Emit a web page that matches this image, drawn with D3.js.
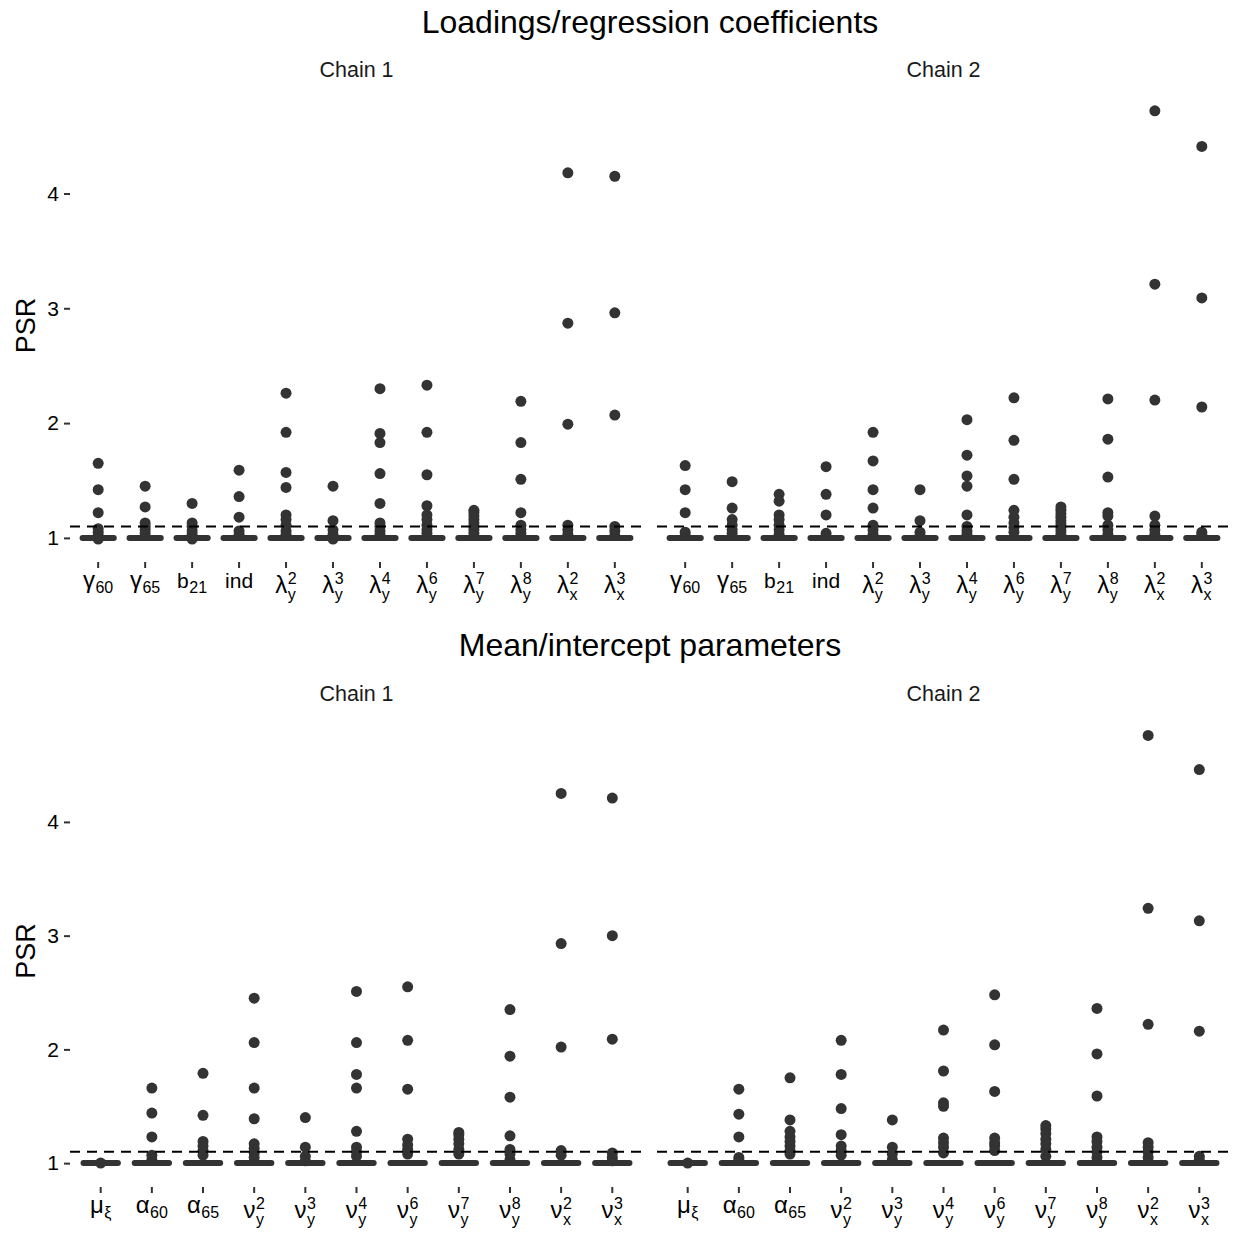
<!DOCTYPE html>
<html>
<head>
<meta charset="utf-8">
<script src="https://cdn.jsdelivr.net/npm/d3@7"></script>
<style>
  body { margin: 0; background: #fff; }
  text { font-family: "Liberation Sans", Arial, sans-serif; }
</style>
</head>
<body>
<script>
// categories + label pieces (base, subscript, superscript)
var loadBase = ['γ', 'γ', 'b', 'ind', 'λ', 'λ', 'λ', 'λ', 'λ', 'λ', 'λ', 'λ'];
var loadSub  = ['60', '65', '21', '', 'y', 'y', 'y', 'y', 'y', 'y', 'x', 'x'];
var loadSup  = ['', '', '', '', '2', '3', '4', '6', '7', '8', '2', '3'];

var meanBase = ['μ', 'α', 'α', 'ν', 'ν', 'ν', 'ν', 'ν', 'ν', 'ν', 'ν'];
var meanSub  = ['ξ', '60', '65', 'y', 'y', 'y', 'y', 'y', 'y', 'x', 'x'];
var meanSup  = ['', '', '', '2', '3', '4', '6', '7', '8', '2', '3'];

var chains = ['Chain 1', 'Chain 2'];
var yTicks = [1, 2, 3, 4];
var cutoff = 1.1;

// medians (boxes collapse onto these)
var loadMedian = [1.0, 1.0, 1.0, 1.0, 1.0, 1.0, 1.0, 1.0, 1.0, 1.0, 1.0, 1.0];
var meanMedian = [1.0, 1.0, 1.0, 1.0, 1.0, 1.0, 1.0, 1.0, 1.0, 1.0, 1.0];

// outlying PSR values per parameter
var loadChain1 = [
  [1.65, 1.42, 1.22, 1.08, 1.05, 1.02, 0.99],
  [1.45, 1.27, 1.13, 1.10, 1.07, 1.04],
  [1.30, 1.13, 1.10, 1.06, 1.03, 0.99],
  [1.59, 1.36, 1.18, 1.06, 1.03],
  [2.26, 1.92, 1.57, 1.44, 1.20, 1.16, 1.11, 1.06, 1.03],
  [1.45, 1.15, 1.07, 1.03, 0.99],
  [2.30, 1.91, 1.83, 1.56, 1.30, 1.13, 1.10, 1.06, 1.03],
  [2.33, 1.92, 1.55, 1.28, 1.20, 1.16, 1.11, 1.07, 1.04],
  [1.24, 1.22, 1.19, 1.16, 1.13, 1.10, 1.07, 1.04],
  [2.19, 1.83, 1.51, 1.22, 1.11, 1.07, 1.04],
  [4.18, 2.87, 1.99, 1.11, 1.07, 1.03],
  [4.15, 2.96, 2.07, 1.10, 1.06, 1.02]
];
var loadChain2 = [
  [1.63, 1.42, 1.22, 1.05, 1.02],
  [1.49, 1.26, 1.16, 1.11, 1.07, 1.04],
  [1.38, 1.32, 1.20, 1.16, 1.11, 1.07, 1.03],
  [1.62, 1.38, 1.20, 1.04],
  [1.92, 1.67, 1.42, 1.26, 1.11, 1.07, 1.03],
  [1.42, 1.15, 1.05, 1.02],
  [2.03, 1.72, 1.54, 1.45, 1.20, 1.10, 1.06, 1.03],
  [2.22, 1.85, 1.51, 1.24, 1.18, 1.13, 1.09, 1.05],
  [1.27, 1.24, 1.21, 1.18, 1.15, 1.12, 1.09, 1.06, 1.03],
  [2.21, 1.86, 1.53, 1.22, 1.19, 1.11, 1.07, 1.03],
  [4.72, 3.21, 2.20, 1.19, 1.11, 1.07, 1.03],
  [4.41, 3.09, 2.14, 1.05, 1.03]
];
var meanChain1 = [
  [1.00],
  [1.66, 1.44, 1.23, 1.07, 1.03],
  [1.79, 1.42, 1.19, 1.15, 1.11, 1.07],
  [2.45, 2.06, 1.66, 1.39, 1.17, 1.13, 1.09, 1.05],
  [1.40, 1.14, 1.06, 1.02],
  [2.51, 2.06, 1.78, 1.66, 1.28, 1.14, 1.10, 1.06],
  [2.55, 2.08, 1.65, 1.21, 1.16, 1.12, 1.08],
  [1.27, 1.25, 1.21, 1.17, 1.12, 1.08],
  [2.35, 1.94, 1.58, 1.24, 1.12, 1.08, 1.03],
  [4.25, 2.93, 2.02, 1.11, 1.07],
  [4.21, 3.00, 2.09, 1.09, 1.05, 1.02]
];
var meanChain2 = [
  [1.00],
  [1.65, 1.43, 1.23, 1.05, 1.03],
  [1.75, 1.38, 1.28, 1.23, 1.19, 1.15, 1.11, 1.08],
  [2.08, 1.78, 1.48, 1.25, 1.15, 1.11, 1.07],
  [1.38, 1.14, 1.08, 1.03],
  [2.17, 1.81, 1.53, 1.50, 1.22, 1.18, 1.14, 1.09],
  [2.48, 2.04, 1.63, 1.22, 1.18, 1.15, 1.11],
  [1.33, 1.30, 1.26, 1.21, 1.17, 1.12, 1.06],
  [2.36, 1.96, 1.59, 1.23, 1.19, 1.14, 1.10, 1.05],
  [4.76, 3.24, 2.22, 1.18, 1.14, 1.10, 1.05],
  [4.46, 3.13, 2.16, 1.06, 1.03]
];

var W = 1233, H = 1233;
var ink = '#333333';
var panelX = [[70, 643], [657, 1230]];

var sections = [
  { title: 'Loadings/regression coefficients', titleY: 33, stripY: 77,
    top: 89, bottom: 562, domain: [0.79, 4.91],
    base: loadBase, sub: loadSub, sup: loadSup, median: loadMedian,
    data: [loadChain1, loadChain2] },
  { title: 'Mean/intercept parameters', titleY: 656, stripY: 701,
    top: 715, bottom: 1187, domain: [0.79, 4.94],
    base: meanBase, sub: meanSub, sup: meanSup, median: meanMedian,
    data: [meanChain1, meanChain2] }
];

var svg = d3.select('body').append('svg')
  .attr('width', W)
  .attr('height', H);

sections.forEach(function(sec) {
  var y = d3.scaleLinear().domain(sec.domain).range([sec.bottom, sec.top]);
  var idx = d3.range(sec.base.length);

  svg.append('text')
    .attr('x', (panelX[0][0] + panelX[1][1]) / 2)
    .attr('y', sec.titleY)
    .attr('text-anchor', 'middle')
    .style('font-size', '32px')
    .text(sec.title);

  // y axis
  var yAxis = svg.append('g').attr('transform', 'translate(' + panelX[0][0] + ',0)')
    .call(d3.axisLeft(y).tickValues(yTicks).tickSize(6).tickPadding(5).tickFormat(d3.format('d')));
  yAxis.select('.domain').remove();
  yAxis.selectAll('line').attr('stroke', ink).attr('stroke-width', 2);
  yAxis.selectAll('text').style('font-size', '21px').attr('fill', '#000')
    .style('font-family', '"Liberation Sans", Arial, sans-serif');

  svg.append('text')
    .attr('transform', 'translate(35,' + ((sec.top + sec.bottom) / 2) + ') rotate(-90)')
    .attr('text-anchor', 'middle')
    .style('font-size', '27px')
    .text('PSR');

  chains.forEach(function(chain, c) {
    var x = d3.scalePoint().domain(idx).range(panelX[c]).padding(0.6);
    var step = x.step();
    var g = svg.append('g');

    g.append('text')
      .attr('x', (panelX[c][0] + panelX[c][1]) / 2)
      .attr('y', sec.stripY)
      .attr('text-anchor', 'middle')
      .style('font-size', '21.5px')
      .attr('fill', '#1a1a1a')
      .text(chain);

    // outliers
    idx.forEach(function(i) {
      g.selectAll(null)
        .data(sec.data[c][i])
        .enter().append('circle')
        .attr('cx', x(i))
        .attr('cy', function(d) { return y(d); })
        .attr('r', 5.5)
        .attr('fill', ink);
    });

    // collapsed boxes
    g.selectAll('rect.box')
      .data(idx)
      .enter().append('rect')
      .attr('class', 'box')
      .attr('x', function(i) { return x(i) - step * 0.375; })
      .attr('y', function(i) { return y(sec.median[i]) - 2; })
      .attr('width', step * 0.75)
      .attr('height', 4)
      .attr('rx', 2)
      .attr('fill', ink)
      .attr('stroke', ink)
      .attr('stroke-width', 2)
      .attr('stroke-linejoin', 'round');

    // reference line
    g.append('line')
      .attr('x1', panelX[c][0]).attr('x2', panelX[c][1])
      .attr('y1', y(cutoff)).attr('y2', y(cutoff))
      .attr('stroke', '#000')
      .attr('stroke-width', 2)
      .attr('stroke-dasharray', '10,7');

    // x ticks and math labels (one text, tspans for sub/superscripts)
    idx.forEach(function(i) {
      var cx = x(i);
      g.append('line')
        .attr('x1', cx).attr('x2', cx)
        .attr('y1', sec.bottom).attr('y2', sec.bottom + 6)
        .attr('stroke', ink).attr('stroke-width', 2);

      var hasSup = sec.sup[i] !== '';
      var baseY = sec.bottom + (hasSup ? 31 : 26);
      var greek = /[^a-z]/.test(sec.base[i]);
      var t = g.append('text').attr('x', cx).attr('y', baseY);
      t.append('tspan')
        .style('font-size', greek ? '24px' : '21px')
        .text(sec.base[i]);
      if (hasSup) {
        var sp = t.append('tspan')
          .attr('dx', 0.5)
          .attr('dy', -9)
          .style('font-size', '16px')
          .text(sec.sup[i]);
        var sw = sp.node().getComputedTextLength();
        t.append('tspan')
          .attr('dx', -sw)
          .attr('dy', 16)
          .style('font-size', '16px')
          .text(sec.sub[i]);
      } else if (sec.sub[i]) {
        t.append('tspan')
          .attr('dx', 0.5)
          .attr('dy', 5)
          .style('font-size', '16px')
          .text(sec.sub[i]);
      }
      var bb = t.node().getBBox();
      t.attr('x', cx - (bb.x - cx) - bb.width / 2);
    });
  });
});
</script>
</body>
</html>
